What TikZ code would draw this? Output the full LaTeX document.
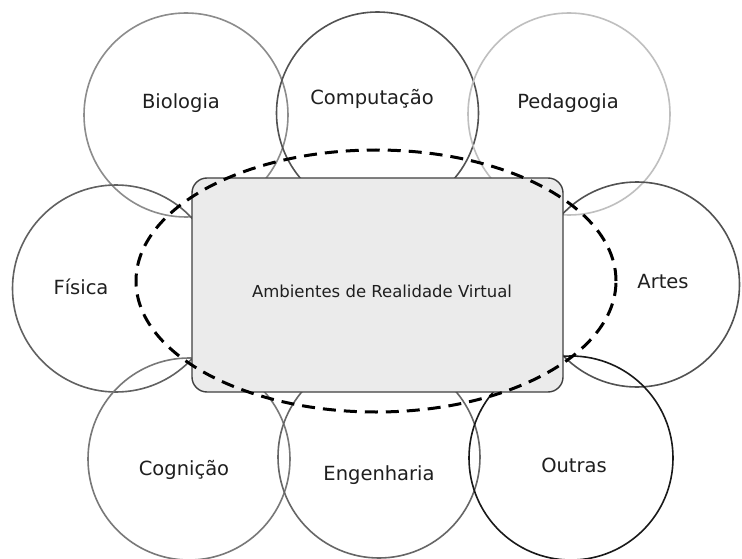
\documentclass[tikz,border=0pt]{standalone}
\usepackage{fontspec}
\setmainfont{DejaVu Sans}
\usetikzlibrary{shapes.geometric}
\tikzset{
  area/.style={circle, draw, line width=1.6pt, inner sep=0pt, minimum size=#1},
  lbl/.style={font=\fontsize{19.5}{23}\selectfont, text=black!88, inner sep=0pt},
  centerbox/.style={draw=black!75, line width=1.4pt, fill=black!8, rounded corners=15pt, inner sep=0pt},
  rvzone/.style={ellipse, draw=black, line width=3pt, dash pattern=on 13pt off 8pt, inner sep=0pt}
}
\begin{document}
\begin{tikzpicture}[x=1pt,y=-1pt]
\useasboundingbox (0,0) rectangle (742,559);
\fill[white] (0,0) rectangle (742,559);
% circles
\node[area=204pt, draw=black!45] (cbio) at (186,115) {};
\node[area=202pt, draw=black!68] (ccomp) at (377.5,113) {};
\node[area=202pt, draw=black!25] (cped) at (569,114) {};
\node[area=207pt, draw=black!62] (cfis) at (116,288.5) {};
\node[area=205pt, draw=black!68] (cart) at (637,284.5) {};
\node[area=202pt, draw=black!53] (ccog) at (189,459) {};
\node[area=202pt, draw=black!60] (ceng) at (379,457) {};
\node[area=204pt, draw=black!90] (cout) at (571,458) {};
% central box
\node[centerbox, minimum width=371pt, minimum height=214pt] (rv) at (377.5,285) {};
% dashed ellipse
\node[rvzone, minimum width=480pt, minimum height=262pt] (zone) at (376,281) {};
% labels
\node[lbl] (tbio) at (181,103) {Biologia};
\node[lbl] (tcomp) at (372,99) {Computação};
\node[lbl] (tped) at (568,103) {Pedagogia};
\node[lbl] (tfis) at (81,287) {Física};
\node[lbl] (tart) at (663,282) {Artes};
\node[lbl] (tcog) at (184,470) {Cognição};
\node[lbl] (teng) at (379,475) {Engenharia};
\node[lbl] (tout) at (574,465) {Outras};
\node[font=\fontsize{16.5}{20}\selectfont, text=black!88, inner sep=0pt] (trv) at (382,291) {Ambientes de Realidade Virtual};
\end{tikzpicture}
\end{document}
